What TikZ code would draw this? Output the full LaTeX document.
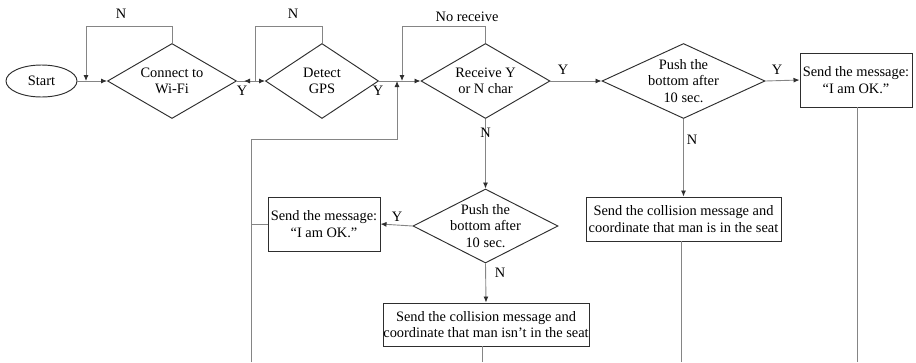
\documentclass[tikz,border=0pt]{standalone}
\usepackage{fontspec}
\setmainfont{Liberation Serif}
\usetikzlibrary{shapes.geometric,arrows.meta}
\definecolor{edge}{HTML}{2E2E2E}
\definecolor{wire}{HTML}{858585}
\begin{document}
\begin{tikzpicture}[x=1pt,y=-1pt,
  every node/.style={font=\fontsize{14.4}{16.6}\selectfont, text=black},
  shapeline/.style={draw=edge, line width=0.95pt},
  decision/.style={shapeline, diamond, inner sep=0pt, minimum width=#1, minimum height=75pt},
  decision/.default=129pt,
  dtext/.style={label={[align=center]center:#1}},
  procbox/.style={shapeline, rectangle, align=center, inner sep=0pt},
  terminal/.style={shapeline, ellipse, minimum width=71pt, minimum height=32pt, inner sep=0pt},
  conn/.style={draw=wire, line width=0.9pt},
  arr/.style={conn, -{Latex[length=6pt,width=5pt,fill=edge,color=edge]}},
  tag/.style={inner sep=0pt}
]
\useasboundingbox (0,0) rectangle (916,362);

% --- shapes of the top row
\node[terminal] (start) at (41.5,81) {Start};
\node[decision=129pt, dtext={Connect to\\Wi-Fi}] (wifi) at (172,81) {};
\node[decision=113pt, dtext={Detect\\GPS}] (gps) at (322,81) {};
\node[decision=129pt, dtext={Receive Y\\or N char}] (recv) at (485.5,81) {};
\node[decision=163pt, dtext={Push the\\bottom after\\10 sec.}] (push1) at (683.5,81) {};
\node[procbox, minimum width=112pt, minimum height=54pt] (ok1) at (856,80) {Send the message:\\“I am OK.”};

% --- lower shapes
\node[procbox, minimum width=195pt, minimum height=44pt] (coll1) at (683.5,219) {Send the collision message and\\coordinate that man is in the seat};
\node[decision=145pt, minimum height=74pt, dtext={Push the\\bottom after\\10 sec.}] (push2) at (485.5,226) {};
\node[procbox, minimum width=112pt, minimum height=54pt] (ok2) at (324,224) {Send the message:\\“I am OK.”};
\node[procbox, minimum width=206pt, minimum height=43pt] (coll2) at (486,324.5) {Send the collision message and\\coordinate that man isn’t in the seat};

% --- junction points
\coordinate (jw) at (86,81);
\coordinate (jg) at (255,81);
\coordinate (jgl) at (244,81);
\coordinate (jr) at (402,81);
\coordinate (jup) at (397,81);
\coordinate (turn) at (397,139);
\coordinate (back) at (251,362);
\coordinate (endok1) at (857,362);
\coordinate (endc1) at (681,362);
\coordinate (endc2) at (482,362);

% --- connectors
\draw[arr] (start.east) -- (wifi.west);
\draw[arr] (wifi.north) -- ++(0,-17) -| (jw);
\draw[conn] (wifi.east) -- (jg);
\draw[arr] (gps.north) -- ++(0,-17) -| (jg) -- (jgl);
\draw[arr] (jg) -- (gps.west);
\draw[arr] (gps.east) -- (recv.west);
\draw[arr] (recv.north) -- ++(0,-17) -| (jr);
\draw[arr] (back) |- (turn) -- (jup);
\draw[arr] (recv.east) -- (push1.west);
\draw[arr] (push1.east) -- (ok1.west);
\draw[conn] (ok1.south -| endok1) -- (endok1);
\draw[arr] (push1.south) -- (coll1.north);
\draw[conn] (coll1.south -| endc1) -- (endc1);
\draw[arr] (recv.south) -- (push2.north);
\draw[arr] (push2.west) -- (ok2.east);
\draw[conn] (ok2.west) -- (ok2.west -| back);
\draw[arr] (push2.south) -- (coll2.north);
\draw[conn] (coll2.south -| endc2) -- (endc2);

% --- branch labels
\node[tag] (lw) at (121,14) {N};
\node[tag] (lg) at (293,14) {N};
\node[tag] (lr) at (467,17) {No receive};
\node[tag] (yw) at (242,91) {Y};
\node[tag] (yg) at (378,91) {Y};
\node[tag] (yr) at (563,70) {Y};
\node[tag] (yp1) at (777,70) {Y};
\node[tag] (np1) at (692,140) {N};
\node[tag] (nr) at (485.5,133) {N};
\node[tag] (yp2) at (397,217) {Y};
\node[tag] (np2) at (500,273) {N};
\end{tikzpicture}
\end{document}
